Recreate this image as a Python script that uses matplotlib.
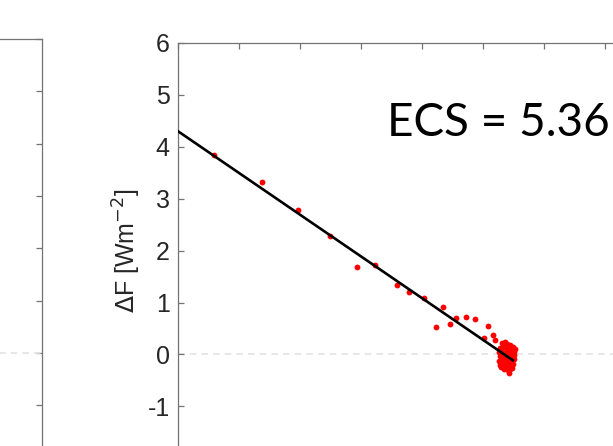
import matplotlib
matplotlib.use("Agg")
import matplotlib.pyplot as plt
import numpy as np

plt.rcParams['font.family'] = ['Liberation Sans', 'DejaVu Sans']
plt.rcParams['axes.unicode_minus'] = False

# global mean warming [K] and TOA imbalance [W m-2], yearly means
dT = [1.19, 2.76, 3.93, 4.99, 5.88, 6.45, 7.18, 7.56, 8.07, 8.70,
      8.46, 8.93, 9.10, 9.45, 9.75, 10.15, 10.32, 10.03, 10.38,
      10.62, 10.72, 10.80, 10.90, 10.98, 10.55, 10.65, 10.75, 10.85, 10.95,
      11.03, 10.52, 10.60, 10.70, 10.80, 10.90, 11.00, 10.55, 10.63, 10.73,
      10.83, 10.93, 11.02, 10.53, 10.62, 10.70, 10.78, 10.88, 10.97, 10.56,
      10.66, 10.75, 10.85, 10.95, 10.70, 10.82, 10.90, 10.84, 10.60, 11.04,
      10.68, 10.87]
dF = [3.85, 3.32, 2.78, 2.29, 1.69, 1.73, 1.33, 1.21, 1.09, 0.92,
      0.53, 0.58, 0.71, 0.72, 0.68, 0.54, 0.38, 0.32, 0.28,
      0.22, 0.24, 0.20, 0.18, 0.15, 0.12, 0.14, 0.12, 0.10, 0.08,
      0.05, 0.04, 0.06, 0.03, 0.05, 0.00, -0.02, -0.04, -0.06, -0.03,
      -0.07, -0.05, -0.08, -0.12, -0.14, -0.10, -0.16, -0.13, -0.18, -0.20,
      -0.22, -0.24, -0.21, -0.26, -0.29, -0.30, -0.28, -0.36, -0.25, 0.11,
      -0.17, 0.14]

# Gregory regression
forcing = 4.30
feedback = -0.402
fit_range = [0, 10.98]
ecs_label = "ECS = 5.36"
yticks = [-1, 0, 1, 2, 3, 4, 5, 6]

dT = np.asarray(dT)
dF = np.asarray(dF)

W, H = 613, 446
fig = plt.figure(figsize=(W / 100, H / 100), dpi=100)

spine_col = "#737373"
text_col = "#262626"
zero_col = "#e3e3e3"

def style(ax):
    for s in ax.spines.values():
        s.set_color(spine_col)
        s.set_linewidth(0.9)
    ax.tick_params(direction="in", top=True, right=True, length=4,
                   width=0.9, color=spine_col, labelcolor=text_col,
                   labelsize=18, pad=6)
    ax.tick_params(labelbottom=False)

# neighbouring panel, only its right edge shows
ax0 = fig.add_axes([(42 - 300) / W, 1 - 457.4 / H, 300 / W, 418.4 / H])
ax0.set_xlim(0, 10)
ax0.set_ylim(-2, 6)
ax0.axhline(0, color=zero_col, lw=1.2, ls=(0, (4, 3)))
ax0.set_yticks(yticks)
ax0.set_xticks([])
style(ax0)
ax0.tick_params(labelleft=False)

ax = fig.add_axes([178 / W, 1 - 458.2 / H, 488 / W, 415.2 / H])
ax.set_xlim(0, 16)
ax.set_ylim(-2, 6)
ax.axhline(0, color=zero_col, lw=1.2, ls=(0, (4, 3)), zorder=1)
ax.plot(dT, dF, "o", color="red", ms=4.2, mec="none", zorder=2)
xf = np.array(fit_range)
ax.plot(xf, forcing + feedback * xf, color="black", lw=1.9, zorder=3)
ax.set_yticks(yticks)
ax.set_xticks(range(0, 17, 2))
style(ax)
ax.set_ylabel("$\\Delta$F [Wm$^{\\mathrm{-2}}$]", fontsize=18, color=text_col, labelpad=3)
ax.text(6.85, 4.21, ecs_label, fontsize=33, family="Lato", color="black")

fig.savefig("out.png", dpi=100)
